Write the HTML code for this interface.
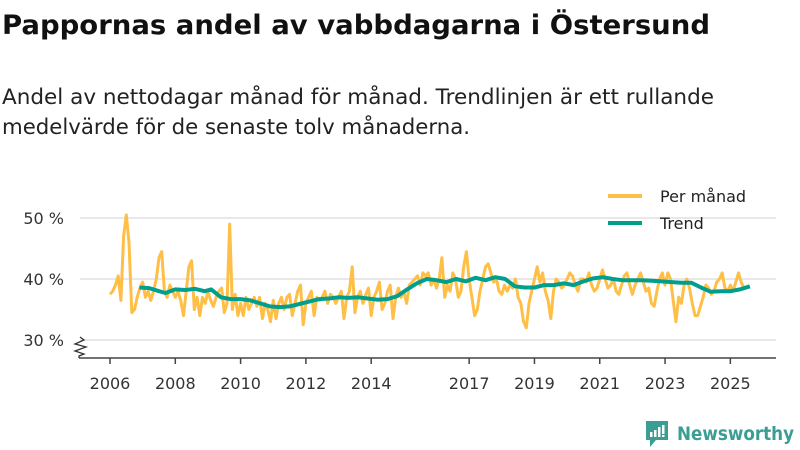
<!DOCTYPE html>
<html><head><meta charset="utf-8"><style>
body{margin:0;background:#fff;font-family:"Liberation Sans","DejaVu Sans",sans-serif;}
svg{display:block}
</style></head><body>
<svg width="800" height="450" xmlns="http://www.w3.org/2000/svg" font-family="DejaVu Sans, Liberation Sans, sans-serif">
<text x="2" y="34" font-size="27" font-weight="bold" fill="#111" textLength="708" lengthAdjust="spacingAndGlyphs">Pappornas andel av vabbdagarna i Östersund</text>
<text x="2" y="104" font-size="21" fill="#222" textLength="712" lengthAdjust="spacingAndGlyphs">Andel av nettodagar månad för månad. Trendlinjen är ett rullande</text>
<text x="2" y="134" font-size="21" fill="#222" textLength="468" lengthAdjust="spacingAndGlyphs">medelvärde för de senaste tolv månaderna.</text>
<g id="grid"></g>
<g id="axes"></g>
<g id="series"></g>
<g>
<line x1="608" y1="196" x2="642" y2="196" stroke="#ffbf47" stroke-width="4"/>
<text x="660" y="202" font-size="16" fill="#222">Per månad</text>
<line x1="608" y1="223" x2="642" y2="223" stroke="#009e8c" stroke-width="4"/>
<text x="660" y="229" font-size="16" fill="#222">Trend</text>
</g>
<g>
<path d="M646 421 h22 v19 h-12 l-6 7 v-7 h-4 z" fill="#3a9e93"/>
<rect x="650" y="432" width="2.5" height="5" fill="#fff"/><rect x="654" y="430" width="2.5" height="7" fill="#fff"/><rect x="658" y="427" width="2.5" height="10" fill="#fff"/><rect x="662" y="425" width="2.5" height="9" fill="#fff"/><rect x="662" y="435" width="2.5" height="2" fill="#fff"/>
<text x="677" y="440" font-size="19" font-weight="bold" fill="#3a9e93" textLength="117" lengthAdjust="spacingAndGlyphs">Newsworthy</text>
</g>
</svg>
<script>
const monthly = [
37.5,38,39,40.5,36.5,47,50.5,46,34.5,35,37,38.5,
39.5,37,38,36.5,38,40,43.5,44.5,38,37,39,38,
37,38,36.5,34,38,42,43,35,37,34,37,36,
38,36.5,35.5,37,38,38.5,34.5,36,49,35,37.5,34,
36,34,37,35,36,37,35.5,37,33.5,36,35,33,
36.5,33.5,36,37,35,37,37.5,34,36,38,39,32.5,
36,37,38,34,37,36.5,37,38,36,37.5,37,36,
37,38,33.5,37,38,42,34.5,37,38,36,37.5,38.5,
34,37,38,39.5,35,36,38,39,33.5,37,38.5,37,
38,36,39,39.5,40,40.5,39,41,40.5,41,39,40,
38.5,40,43.5,37,39,38,41,40,37,38,42,44.5,
40,37,34,35,38,40,42,42.5,41,39.5,40,38,
37.5,39,38,39,38.5,40,37,36,33,32,36,38,
40,42,39.5,41,38,36.5,33.5,38,40,39.5,38.5,39,
40,41,40.5,39,38,40,40,39.5,41,39,38,38.5,
40,41.5,40,38.5,39,40,38,37.5,39,40.5,41,39,
37.5,39,40,41,39.5,38,38.5,36,35.5,38,40,41,
39,41,40,36.5,33,37,36,39,40,38.5,36,34,
34,35.5,37,39,38.5,37.5,38,39.5,40,41,38.5,38,
39,38,39.5,41,39.5,38.5];
const startYear = 2006;
const trendYears = [2006.9,2007.2,2007.5,2007.7,2008.0,2008.3,2008.6,2008.9,2009.1,2009.4,2009.7,2010.0,2010.3,2010.6,2010.9,2011.2,2011.5,2011.8,2012.1,2012.4,2012.7,2013.0,2013.3,2013.6,2013.9,2014.2,2014.5,2014.8,2015.1,2015.4,2015.7,2016.0,2016.3,2016.6,2016.9,2017.2,2017.5,2017.8,2018.1,2018.4,2018.7,2019.0,2019.3,2019.6,2019.9,2020.2,2020.5,2020.8,2021.1,2021.4,2021.7,2022.0,2022.3,2022.6,2022.9,2023.2,2023.5,2023.8,2024.1,2024.4,2024.7,2025.0,2025.3,2025.6];
const trendValues = [38.6,38.5,38.0,37.7,38.3,38.2,38.4,38.0,38.3,37.0,36.7,36.7,36.5,36.0,35.5,35.4,35.5,35.9,36.3,36.7,36.8,37.0,36.9,37.0,36.8,36.6,36.7,37.2,38.3,39.3,40.0,39.8,39.5,40.0,39.6,40.2,39.8,40.3,40.0,38.8,38.6,38.6,39.0,39.0,39.3,39.0,39.6,40.1,40.3,40.0,39.8,39.8,39.8,39.7,39.6,39.5,39.4,39.4,38.6,37.9,38.0,38.0,38.3,38.8];
const yTicks = [30,40,50];
const xTicks = [2006,2008,2010,2012,2014,2017,2019,2021,2023,2025];

const NS='http://www.w3.org/2000/svg';
const xs = y => 110 + (y-2006)*32.65;
const ys = v => 279 - (v-40)*6.1;
function mk(tag, parent, attrs){const e=document.createElementNS(NS,tag);for(const k in attrs)e.setAttribute(k,attrs[k]);parent.appendChild(e);return e;}
const grid=document.getElementById('grid'), axes=document.getElementById('axes'), series=document.getElementById('series');
yTicks.forEach(t=>{
  const l=mk('line',grid,{x1:80,x2:776,y1:ys(t),y2:ys(t),stroke:'#e0e0e0','stroke-width':1.5});
  
  
  const tx=mk('text',grid,{x:64,y:ys(t)+6,'text-anchor':'end','font-size':16,fill:'#333'});
  tx.textContent=t+' %';
  
  
});
const ax=mk('line',axes,{x1:79,x2:776,y1:358,y2:358,stroke:'#444','stroke-width':1.5});


const zz=mk('polyline',axes,{points:'80,337 84,340 75,344 86,347 75,351 84,354 79,356 79,358',fill:'none',stroke:'#333','stroke-width':1.3});


xTicks.forEach(t=>{
  const x=xs(t);
  const tk=mk('line',axes,{x1:x,x2:x,y1:358,y2:364,stroke:'#444','stroke-width':1.5});
  
  
  const tx=mk('text',axes,{x:x,y:389,'text-anchor':'middle','font-size':16,fill:'#333'});
  tx.textContent=t;
  
  
});
const mp=monthly.map((v,i)=>xs(startYear+i/12).toFixed(1)+','+ys(v).toFixed(1)).join(' ');
const m=mk('polyline',series,{points:mp,fill:'none',stroke:'#ffbf47','stroke-width':3,'stroke-linejoin':'round'});


const tp=trendYears.map((y,i)=>xs(y).toFixed(1)+','+ys(trendValues[i]).toFixed(1)).join(' ');
const tr=mk('polyline',series,{points:tp,fill:'none',stroke:'#009e8c','stroke-width':4,'stroke-linejoin':'round'});


</script>
</body></html>
